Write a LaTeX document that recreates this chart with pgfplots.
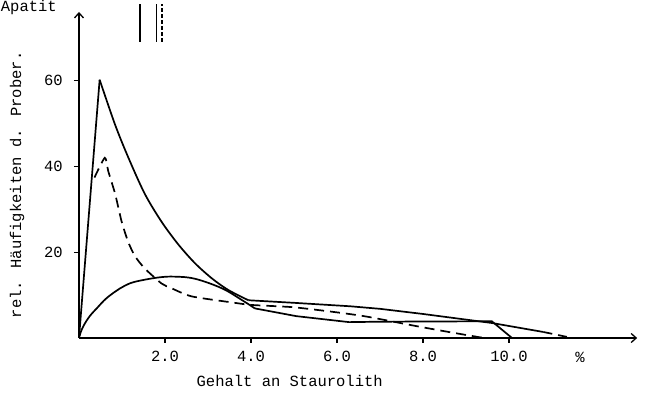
\documentclass[border=0pt]{standalone}
\usepackage{fontspec}
\setmainfont{Liberation Mono}
\usepackage{pgfplots}
\pgfplotsset{compat=1.18}
\usetikzlibrary{arrows.meta}
\begin{document}
\fontsize{15.5}{18}\selectfont
\begin{tikzpicture}
\begin{axis}[
  at={(0,0)}, anchor=origin,
  x=43pt, y=4.29pt,
  xmin=0, xmax=12.98, ymin=0, ymax=76,
  axis lines=left,
  axis line style={line width=1.4pt,-{Straight Barb[length=5pt,width=9pt,line width=1.3pt]}},
  clip=false,
  xtick={2,4,6,8,10}, xticklabels={2.0,4.0,6.0,8.0,10.0},
  ytick={20,40,60}, yticklabels={20,40,60},
  tick align=outside, major tick length=5pt,
  tick style={line width=1.2pt,black},
  xticklabel style={yshift=-3pt},
  yticklabel style={xshift=-6pt},
  /pgf/number format/assume math mode=true,
  every axis plot/.append style={line width=1.7pt, black},
]
% upper solid curve
\addplot[mark=none] coordinates {(0,0) (0.48,60.2)};
\addplot[mark=none, smooth, tension=0.5] coordinates {
(0.48,60.2) (0.84,49.7) (1.15,42.0) (1.53,33.6) (1.92,27.1) (2.31,21.8)
(2.70,17.4) (3.09,13.9) (3.47,11.2) (3.94,8.8)};
\addplot[mark=none] coordinates {
(3.94,8.8) (5,8.2) (6.3,7.4) (7,6.8) (8,5.6) (9.6,3.5) (10.8,1.4)};
\addplot[mark=none, dash pattern=on 9pt off 6pt] coordinates {(10.8,1.4) (11.47,0)};
% lower solid hump curve
\addplot[mark=none, smooth, tension=0.6] coordinates {
(0,0) (0.05,1.6) (0.12,3.1) (0.25,5.1) (0.43,7.1) (0.62,9.1) (0.84,10.8) (1.05,12.1)
(1.30,13.1) (1.84,14.1) (2.23,14.3) (2.70,13.8) (3.32,11.6) (3.78,8.9) (4.09,6.9)};
\addplot[mark=none] coordinates {
(4.09,6.9) (5.05,5.1) (6.28,3.7) (7,3.8) (9.6,3.9) (10.07,0)};
% dashed curve
\addplot[mark=none, smooth, tension=0.4, dash pattern=on 10pt off 6pt] coordinates {
(0.36,37.4) (0.6,42) (0.68,38.9) (0.84,33.6) (0.99,27.2) (1.14,22.5) (1.30,19.1)
(1.53,16.2) (1.92,12.7) (2.15,11.6) (2.62,9.7) (3.55,8.3) (4.02,7.7) (4.95,7.2) (5.74,6.3)
(6.28,5.6) (6.74,4.9) (7.83,2.8) (8.6,1.4) (9.3,0.2) (9.45,0)};
% markers at top
\addplot[mark=none, line width=1.2pt] coordinates {(1.42,69) (1.42,77.9)};
\addplot[mark=none, line width=1.2pt] coordinates {(1.81,69) (1.81,77.9)};
\addplot[mark=none, line width=1.2pt, dash pattern=on 4pt off 2pt] coordinates {(1.93,69) (1.93,77.9)};
\node at (axis cs:11.65,-4.6) {\%};
\node at (axis cs:4.9,-10.0) {Gehalt an Staurolith};
\node[rotate=90] at (axis cs:-1.44,35.7) {rel. Häufigkeiten d. Prober.};
\node[anchor=base west, inner sep=0pt] at (axis cs:-1.82,76.1) {Apatit};
\end{axis}
\pgfresetboundingbox
\useasboundingbox (-79pt,-63pt) rectangle (566pt,338pt);
\end{tikzpicture}
\end{document}
